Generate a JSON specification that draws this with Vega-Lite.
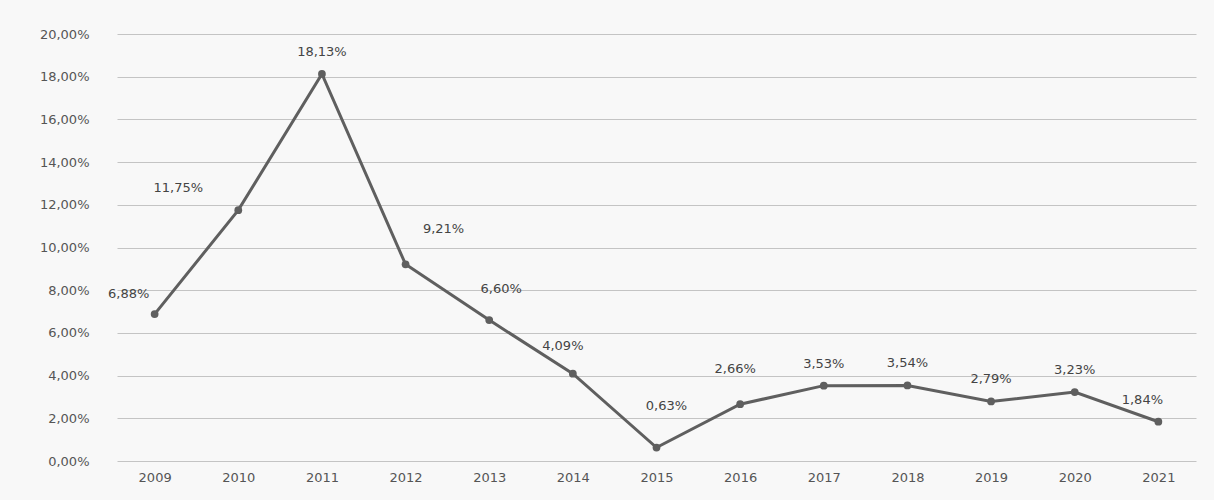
{
  "$schema": "https://vega.github.io/schema/vega-lite/v6.json",
  "autosize": {"type": "fit", "contains": "padding"},
  "width": 1214,
  "height": 500,
  "padding": {"left": 39, "top": 28, "right": 18, "bottom": 16},
  "background": "#f8f8f8",
  "config": {
    "locale": {"number": {"decimal": ",", "thousands": ".", "grouping": [3], "currency": ["", " €"]}},
    "view": {"stroke": null},
    "font": "DejaVu Sans",
    "text": {"fontSize": 13, "color": "#444444"}
  },
  "data": {"values": [
    {"year": "2009", "rate": 0.0688},
    {"year": "2010", "rate": 0.1175},
    {"year": "2011", "rate": 0.1813},
    {"year": "2012", "rate": 0.0921},
    {"year": "2013", "rate": 0.0660},
    {"year": "2014", "rate": 0.0409},
    {"year": "2015", "rate": 0.0063},
    {"year": "2016", "rate": 0.0266},
    {"year": "2017", "rate": 0.0353},
    {"year": "2018", "rate": 0.0354},
    {"year": "2019", "rate": 0.0279},
    {"year": "2020", "rate": 0.0323},
    {"year": "2021", "rate": 0.0184}
  ]},
  "encoding": {
    "x": {"field": "year", "type": "ordinal", "title": null,
      "scale": {"padding": 0.45},
      "axis": {"labelAngle": 0, "domain": false, "ticks": false, "labelPadding": 10, "labelFontSize": 13, "labelColor": "#555555", "grid": false}},
    "y": {"field": "rate", "type": "quantitative", "title": null,
      "scale": {"domain": [0, 0.2], "nice": false},
      "axis": {"values": [0, 0.02, 0.04, 0.06, 0.08, 0.1, 0.12, 0.14, 0.16, 0.18, 0.2], "format": ".2%", "domain": false, "ticks": false, "labelPadding": 28, "labelFontSize": 13, "labelColor": "#555555", "gridColor": "#c4c4c4", "gridWidth": 1.2}}
  },
  "layer": [
    {"mark": {"type": "line", "color": "#5f5f5f", "strokeWidth": 3}},
    {"mark": {"type": "point", "filled": true, "color": "#5f5f5f", "size": 60, "opacity": 1}},
    {"transform": [{"filter": "indexof(['2011','2017','2018','2019','2020'], datum.year) >= 0"}],
      "mark": {"type": "text", "dy": -22},
      "encoding": {"text": {"field": "rate", "type": "quantitative", "format": ".2%"}}},
    {"transform": [{"filter": "datum.year == '2009'"}],
      "mark": {"type": "text", "dy": -20, "dx": -26},
      "encoding": {"text": {"field": "rate", "type": "quantitative", "format": ".2%"}}},
    {"transform": [{"filter": "datum.year == '2010'"}],
      "mark": {"type": "text", "dy": -22, "dx": -60},
      "encoding": {"text": {"field": "rate", "type": "quantitative", "format": ".2%"}}},
    {"transform": [{"filter": "datum.year == '2012'"}],
      "mark": {"type": "text", "dy": -35, "dx": 38},
      "encoding": {"text": {"field": "rate", "type": "quantitative", "format": ".2%"}}},
    {"transform": [{"filter": "datum.year == '2013'"}],
      "mark": {"type": "text", "dy": -31, "dx": 12},
      "encoding": {"text": {"field": "rate", "type": "quantitative", "format": ".2%"}}},
    {"transform": [{"filter": "datum.year == '2014'"}],
      "mark": {"type": "text", "dy": -28, "dx": -10},
      "encoding": {"text": {"field": "rate", "type": "quantitative", "format": ".2%"}}},
    {"transform": [{"filter": "datum.year == '2015'"}],
      "mark": {"type": "text", "dy": -42, "dx": 10},
      "encoding": {"text": {"field": "rate", "type": "quantitative", "format": ".2%"}}},
    {"transform": [{"filter": "datum.year == '2016'"}],
      "mark": {"type": "text", "dy": -35, "dx": -5},
      "encoding": {"text": {"field": "rate", "type": "quantitative", "format": ".2%"}}},
    {"transform": [{"filter": "datum.year == '2021'"}],
      "mark": {"type": "text", "dy": -22, "dx": -16},
      "encoding": {"text": {"field": "rate", "type": "quantitative", "format": ".2%"}}}
  ]
}
